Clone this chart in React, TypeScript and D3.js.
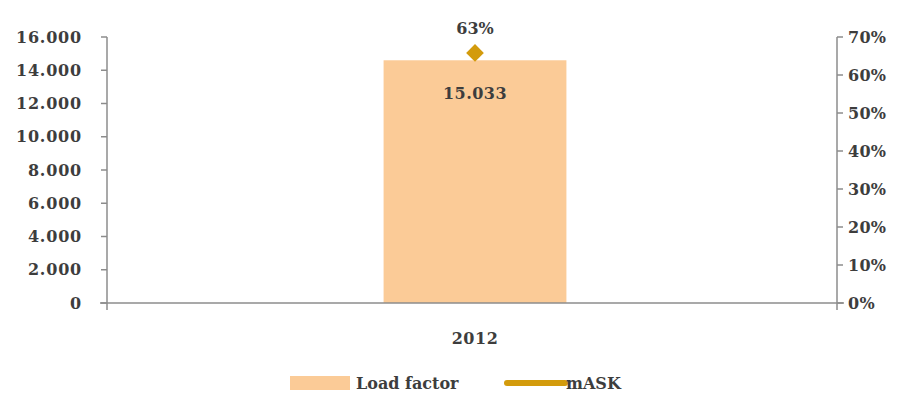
import React from "react";
import * as d3 from "d3";

const categories = ["2012"];
const loadFactor = [14600];
const mask = [0.658];
const leftTicks = [0, 2000, 4000, 6000, 8000, 10000, 12000, 14000, 16000];
const rightTicks = [0, 0.1, 0.2, 0.3, 0.4, 0.5, 0.6, 0.7];
const barLabels = ["15.033"];
const lineLabels = ["63%"];
const legendLabels = ["Load factor", "mASK"];

const W = 913;
const H = 398;
const left = 107;
const right = 837;
const top = 37;
const bottom = 303;

const FONT = "'DejaVu Serif', serif";
const TEXT = "#3d3d3d";
const AXIS = "#8c8c8c";
const BAR = "#FBCB97";
const GOLD = "#D39B0C";

const fmtLeft = (v: number) => d3.format(",")(v).replace(/,/g, ".");
const fmtRight = (v: number) => `${Math.round(v * 100)}%`;

export default function App() {
  const x = d3.scaleBand<string>().domain(categories).range([left + 6, right]).paddingInner(0).paddingOuter(1.48);
  const yL = d3.scaleLinear().domain([0, 16000]).range([bottom, top]);
  const yR = d3.scaleLinear().domain([0, 0.7]).range([bottom, top]);
  const cx = (c: string) => (x(c) ?? 0) + x.bandwidth() / 2;
  const line = d3
    .line<number>()
    .x((_, i) => cx(categories[i]))
    .y((d) => yR(d));
  const diamond = d3.symbol().type(d3.symbolDiamond2).size(200)();

  return (
    <svg width={W} height={H} style={{ position: "absolute", left: 0, top: 0, background: "#fff" }} fontFamily={FONT} fontWeight="bold">
      {/* bars */}
      {categories.map((c, i) => (
        <rect key={c} x={x(c)} y={yL(loadFactor[i])} width={x.bandwidth()} height={bottom - yL(loadFactor[i])} fill={BAR} />
      ))}
      {/* axes */}
      <line x1={left} x2={left} y1={top} y2={bottom + 7} stroke={AXIS} strokeWidth={1.5} />
      <line x1={right} x2={right} y1={top} y2={bottom + 7} stroke={AXIS} strokeWidth={1.5} />
      <line x1={left - 7} x2={right + 7} y1={bottom} y2={bottom} stroke={AXIS} strokeWidth={1.5} />
      {leftTicks.map((t) => (
        <g key={`l${t}`}>
          <line x1={left - 6} x2={left} y1={yL(t)} y2={yL(t)} stroke={AXIS} strokeWidth={1.5} />
          <text x={82} y={yL(t)} dy="0.35em" textAnchor="end" fontSize={16} fill={TEXT} letterSpacing={0.8}>
            {fmtLeft(t)}
          </text>
        </g>
      ))}
      {rightTicks.map((t) => (
        <g key={`r${t}`}>
          <line x1={right} x2={right + 6} y1={yR(t)} y2={yR(t)} stroke={AXIS} strokeWidth={1.5} />
          <text x={848} y={yR(t)} dy="0.35em" textAnchor="start" fontSize={16} fill={TEXT} letterSpacing={0.3}>
            {fmtRight(t)}
          </text>
        </g>
      ))}
      {categories.map((c) => (
        <text key={`c${c}`} x={cx(c)} y={338} dy="0.35em" textAnchor="middle" fontSize={16} fill={TEXT} letterSpacing={0.5}>
          {c}
        </text>
      ))}
      {/* line series */}
      <path d={line(mask) ?? ""} fill="none" stroke={GOLD} strokeWidth={4} />
      {categories.map((c, i) => (
        <g key={`m${c}`}>
          <path d={diamond ?? ""} transform={`translate(${cx(c)},${yR(mask[i])})`} fill={GOLD} />
          <text x={cx(c)} y={yR(mask[i]) - 25} dy="0.35em" textAnchor="middle" fontSize={16} fill={TEXT}>
            {lineLabels[i]}
          </text>
          <text x={cx(c)} y={yL(loadFactor[i]) + 33} dy="0.35em" textAnchor="middle" fontSize={16} fill={TEXT} letterSpacing={0.5}>
            {barLabels[i]}
          </text>
        </g>
      ))}
      {/* legend */}
      <rect x={290} y={376} width={60} height={14} fill={BAR} />
      <text x={356} y={383} dy="0.35em" fontSize={16} fill={TEXT}>
        {legendLabels[0]}
      </text>
      <line x1={507} x2={565} y1={383} y2={383} stroke={GOLD} strokeWidth={6} strokeLinecap="round" />
      <text x={566} y={383} dy="0.35em" fontSize={16} fill={TEXT}>
        {legendLabels[1]}
      </text>
    </svg>
  );
}
